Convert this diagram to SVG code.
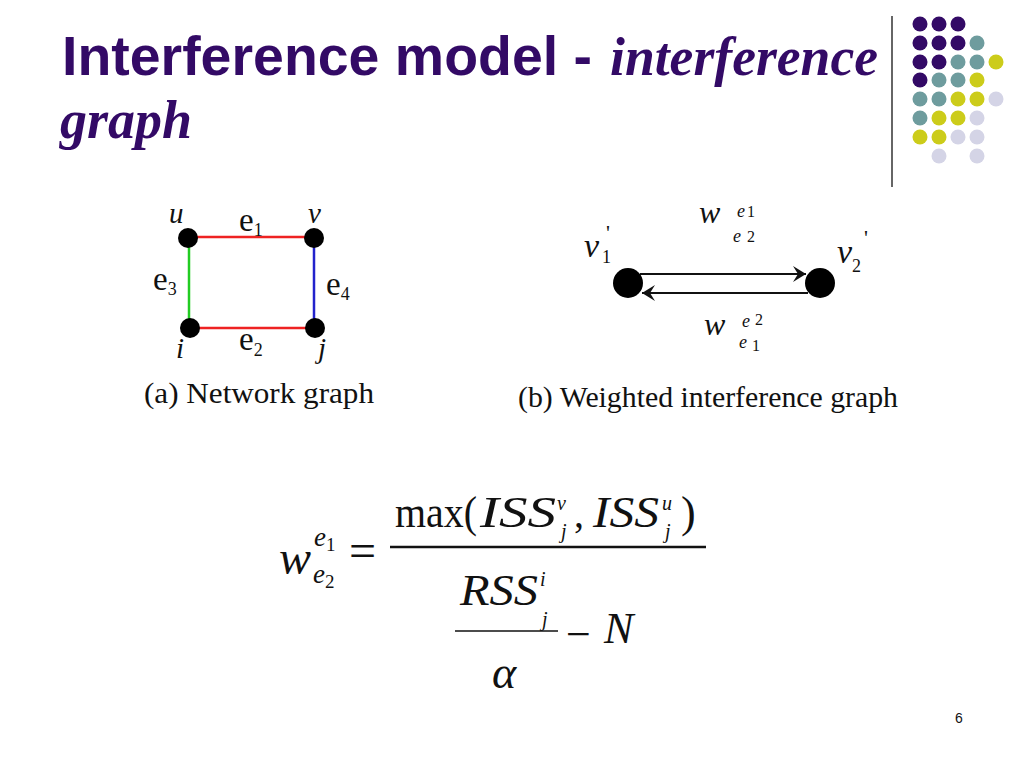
<svg xmlns="http://www.w3.org/2000/svg" width="1024" height="768" viewBox="0 0 1024 768">
<defs>
<style>
.title{font-family:"Liberation Sans",Arial,sans-serif;font-weight:bold;fill:#330A66;}
.titi{font-family:"Liberation Serif","Times New Roman",serif;font-weight:bold;font-style:italic;fill:#330A66;}
.s{font-family:"Liberation Serif","Times New Roman",serif;fill:#111;}
.i{font-family:"Liberation Serif","Times New Roman",serif;font-style:italic;fill:#111;}
.p{fill:#330A66;}.t{fill:#6E9C9E;}.y{fill:#CCCC1A;}.l{fill:#D4D4E6;}
.node{fill:#000;}
.conn{stroke:#111;stroke-width:2;fill:none;}
</style>
<marker id="barb" markerUnits="userSpaceOnUse" viewBox="-14 -10 16 20" markerWidth="16" markerHeight="20" refX="0" refY="0" orient="auto">
<path d="M0,0 L-13,-8 L-8,0 L-13,8 Z" fill="#111"/>
</marker>
</defs>
<rect width="1024" height="768" fill="#fff"/>

<g id="title">
<text class="title" x="62" y="75" font-size="55" textLength="530" lengthAdjust="spacingAndGlyphs">Interference model -</text>
<text class="titi" x="610" y="75" font-size="54" textLength="268" lengthAdjust="spacingAndGlyphs">interference</text>
<text class="titi" x="60" y="138" font-size="54">graph</text>
</g>

<g id="decoration">
<line x1="892" y1="16" x2="892" y2="187" stroke="#333" stroke-width="1.5"/>
<circle class="p" cx="920" cy="24" r="7.5"/><circle class="p" cx="939" cy="24" r="7.5"/><circle class="p" cx="958" cy="24" r="7.5"/>
<circle class="p" cx="920" cy="43" r="7.5"/><circle class="p" cx="939" cy="43" r="7.5"/><circle class="p" cx="958" cy="43" r="7.5"/><circle class="t" cx="977" cy="43" r="7.5"/>
<circle class="p" cx="920" cy="62" r="7.5"/><circle class="p" cx="939" cy="62" r="7.5"/><circle class="t" cx="958" cy="62" r="7.5"/><circle class="t" cx="977" cy="62" r="7.5"/><circle class="y" cx="996" cy="62" r="7.5"/>
<circle class="p" cx="920" cy="80" r="7.5"/><circle class="t" cx="939" cy="80" r="7.5"/><circle class="t" cx="958" cy="80" r="7.5"/><circle class="y" cx="977" cy="80" r="7.5"/>
<circle class="t" cx="920" cy="99" r="7.5"/><circle class="t" cx="939" cy="99" r="7.5"/><circle class="y" cx="958" cy="99" r="7.5"/><circle class="y" cx="977" cy="99" r="7.5"/><circle class="l" cx="996" cy="99" r="7.5"/>
<circle class="t" cx="920" cy="118" r="7.5"/><circle class="y" cx="939" cy="118" r="7.5"/><circle class="y" cx="958" cy="118" r="7.5"/><circle class="l" cx="977" cy="118" r="7.5"/>
<circle class="y" cx="920" cy="137" r="7.5"/><circle class="y" cx="939" cy="137" r="7.5"/><circle class="l" cx="958" cy="137" r="7.5"/><circle class="l" cx="977" cy="137" r="7.5"/>
<circle class="l" cx="939" cy="156" r="7.5"/><circle class="l" cx="977" cy="156" r="7.5"/>
</g>

<g id="connectors">
<line x1="188" y1="237" x2="314" y2="237" stroke="#EE2222" stroke-width="2.5"/>
<line x1="190" y1="328" x2="315" y2="328" stroke="#EE2222" stroke-width="2.5"/>
<line x1="189" y1="238" x2="189" y2="328" stroke="#22CC22" stroke-width="2.5"/>
<line x1="314" y1="238" x2="314" y2="328" stroke="#2222CC" stroke-width="2.5"/>
<line class="conn" x1="640" y1="274" x2="806" y2="274" marker-end="url(#barb)"/>
<line class="conn" x1="808" y1="293" x2="642" y2="293" marker-end="url(#barb)"/>
</g>

<g id="node-u"><circle class="node" cx="188" cy="238" r="10"/><text class="i" x="169" y="223" font-size="29">u</text></g>
<g id="node-v"><circle class="node" cx="314" cy="238" r="10"/><text class="i" x="308" y="223" font-size="29">v</text></g>
<g id="node-i"><circle class="node" cx="190" cy="328" r="10"/><text class="i" x="176" y="358" font-size="29">i</text></g>
<g id="node-j"><circle class="node" cx="315" cy="328" r="10"/><text class="i" x="318" y="358" font-size="29">j</text></g>

<g id="edge-labels">
<text class="s" x="239" y="231" font-size="33">e<tspan font-size="18" dy="5">1</tspan></text>
<text class="s" x="153" y="290" font-size="33">e<tspan font-size="18" dy="5">3</tspan></text>
<text class="s" x="326" y="295" font-size="33">e<tspan font-size="18" dy="5">4</tspan></text>
<text class="s" x="239" y="350" font-size="33">e<tspan font-size="18" dy="6">2</tspan></text>
</g>
<text class="s" x="144" y="403" font-size="30" textLength="230" lengthAdjust="spacingAndGlyphs">(a) Network graph</text>

<g id="node-v1"><circle class="node" cx="628" cy="283" r="15"/>
<text class="i" x="584" y="257" font-size="34">v</text><text class="s" x="602" y="263" font-size="18">1</text><text class="s" x="606" y="240" font-size="22">'</text></g>
<g id="node-v2"><circle class="node" cx="820" cy="283" r="15"/>
<text class="i" x="837" y="263" font-size="34">v</text><text class="s" x="852" y="272" font-size="18">2</text><text class="s" x="864" y="245" font-size="22">'</text></g>

<g id="weight-labels">
<text class="i" x="699" y="223" font-size="32">w</text>
<text class="i" x="737" y="217" font-size="18">e</text><text class="s" x="747" y="217" font-size="16">1</text>
<text class="i" x="733" y="242" font-size="18">e</text><text class="s" x="747" y="242" font-size="16">2</text>
<text class="i" x="704" y="335" font-size="32">w</text>
<text class="i" x="742" y="327" font-size="18">e</text><text class="s" x="755" y="325" font-size="16">2</text>
<text class="i" x="739" y="348" font-size="18">e</text><text class="s" x="752" y="351" font-size="16">1</text>
</g>
<text class="s" x="518" y="407" font-size="30" textLength="380" lengthAdjust="spacingAndGlyphs">(b) Weighted interference graph</text>

<g id="formula">
<text class="i" x="279" y="574" font-size="48">w</text>
<text class="i" x="314" y="546" font-size="27">e</text><text class="s" x="326" y="551" font-size="19">1</text>
<text class="i" x="313" y="583" font-size="27">e</text><text class="s" x="325" y="588" font-size="19">2</text>
<text class="s" x="349" y="567" font-size="48">=</text>
<line x1="390" y1="547" x2="706" y2="547" stroke="#111" stroke-width="2.5"/>
<text class="s" x="395" y="527" font-size="44" textLength="82" lengthAdjust="spacingAndGlyphs">max(</text>
<text class="i" x="480" y="527" font-size="44" textLength="76" lengthAdjust="spacingAndGlyphs">ISS</text>
<text class="i" x="557" y="510" font-size="20">v</text>
<text class="i" x="561" y="538" font-size="20">j</text>
<text class="s" x="574" y="527" font-size="40">,</text>
<text class="i" x="593" y="527" font-size="44" textLength="66" lengthAdjust="spacingAndGlyphs">ISS</text>
<text class="i" x="662" y="510" font-size="20">u</text>
<text class="i" x="665" y="538" font-size="20">j</text>
<text class="s" x="681" y="527" font-size="44">)</text>
<text class="i" x="460" y="605" font-size="44" textLength="78" lengthAdjust="spacingAndGlyphs">RSS</text>
<text class="i" x="540" y="586" font-size="20">i</text>
<text class="i" x="542" y="626" font-size="20">j</text>
<line x1="455" y1="631" x2="558" y2="631" stroke="#111" stroke-width="1.5"/>
<text class="s" x="566" y="649" font-size="44">−</text>
<text class="i" x="604" y="643" font-size="44">N</text>
<text class="i" x="492" y="688" font-size="46">α</text>
</g>

<text x="955" y="723" font-family="Liberation Sans,Arial,sans-serif" font-size="14" fill="#111">6</text>
</svg>
